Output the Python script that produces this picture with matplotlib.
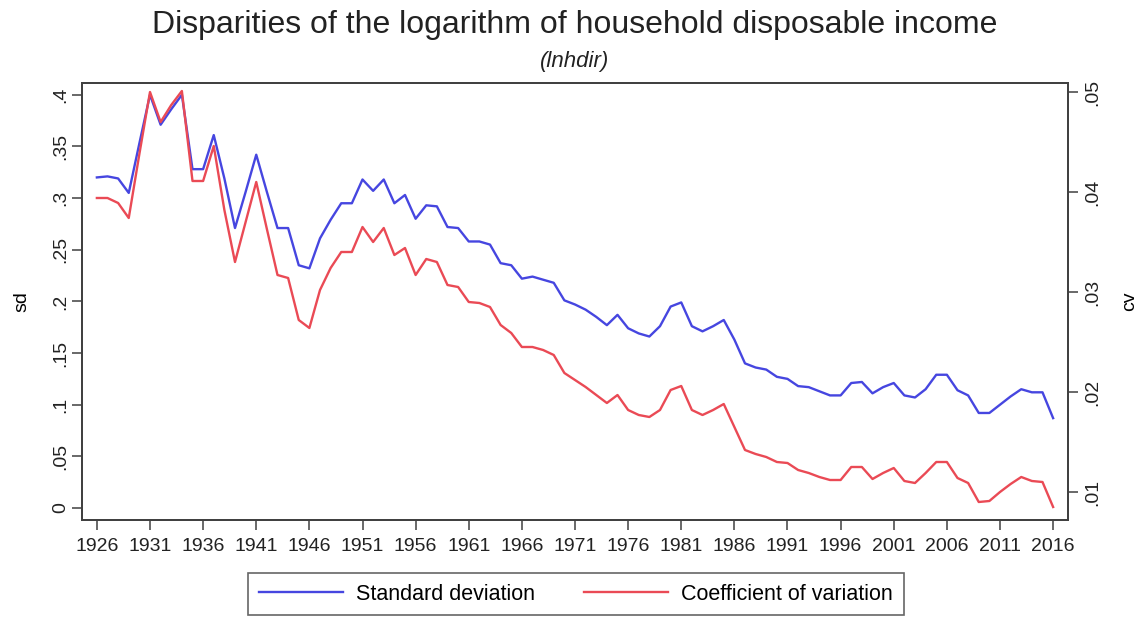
import matplotlib
matplotlib.use("Agg")
import matplotlib.pyplot as plt
import numpy as np

plt.rcParams['font.family'] = ['Liberation Sans', 'DejaVu Sans']

# data (annual, 1926-2016)
years = list(range(1926, 2017))

sd = [
    0.320, 0.321, 0.319, 0.305, 0.353, 0.400, 0.371, 0.386, 0.400, 0.328,  # 1926-1935
    0.328, 0.361, 0.319, 0.271, 0.306, 0.342, 0.306, 0.271, 0.271, 0.235,  # 1936-1945
    0.232, 0.261, 0.279, 0.295, 0.295, 0.318, 0.307, 0.318, 0.295, 0.303,  # 1946-1955
    0.280, 0.293, 0.292, 0.272, 0.271, 0.258, 0.258, 0.255, 0.237, 0.235,  # 1956-1965
    0.222, 0.224, 0.221, 0.218, 0.201, 0.197, 0.192, 0.185, 0.177, 0.187,  # 1966-1975
    0.174, 0.169, 0.166, 0.176, 0.195, 0.199, 0.176, 0.171, 0.176, 0.182,  # 1976-1985
    0.163, 0.140, 0.136, 0.134, 0.127, 0.125, 0.118, 0.117, 0.113, 0.109,  # 1986-1995
    0.109, 0.121, 0.122, 0.111, 0.117, 0.121, 0.109, 0.107, 0.115, 0.129,  # 1996-2005
    0.129, 0.114, 0.109, 0.092, 0.092, 0.100, 0.108, 0.115, 0.112, 0.112,  # 2006-2015
    0.087,                                                                 # 2016
]

cv = [
    0.0394, 0.0394, 0.0389, 0.0374, 0.0438, 0.0500, 0.0470, 0.0487, 0.0501, 0.0411,
    0.0411, 0.0446, 0.0382, 0.0330, 0.0370, 0.0410, 0.0363, 0.0317, 0.0314, 0.0272,
    0.0264, 0.0302, 0.0324, 0.0340, 0.0340, 0.0365, 0.0350, 0.0364, 0.0337, 0.0344,
    0.0317, 0.0333, 0.0330, 0.0307, 0.0305, 0.0290, 0.0289, 0.0285, 0.0267, 0.0259,
    0.0245, 0.0245, 0.0242, 0.0237, 0.0219, 0.0212, 0.0205, 0.0197, 0.0189, 0.0197,
    0.0182, 0.0177, 0.0175, 0.0182, 0.0202, 0.0206, 0.0182, 0.0177, 0.0182, 0.0188,
    0.0165, 0.0142, 0.0138, 0.0135, 0.0130, 0.0129, 0.0122, 0.0119, 0.0115, 0.0112,
    0.0112, 0.0125, 0.0125, 0.0113, 0.0119, 0.0124, 0.0111, 0.0109, 0.0119, 0.0130,
    0.0130, 0.0114, 0.0109, 0.0090, 0.0091, 0.0100, 0.0108, 0.0115, 0.0111, 0.0110,
    0.0085,
]

x_ticks = list(range(1926, 2017, 5))
sd_ticks = [0, 0.05, 0.1, 0.15, 0.2, 0.25, 0.3, 0.35, 0.4]
sd_labels = ["0", ".05", ".1", ".15", ".2", ".25", ".3", ".35", ".4"]
cv_ticks = [0.01, 0.02, 0.03, 0.04, 0.05]
cv_labels = [".01", ".02", ".03", ".04", ".05"]

blue = "#4646e0"
red = "#ea4a55"
frame = "#404040"

fig = plt.figure(figsize=(11.44, 6.18), dpi=100)
ax = fig.add_axes([82 / 1144, 1 - 520 / 618, 986 / 1144, 437 / 618])
ax2 = ax.twinx()

l1, = ax.plot(years, sd, color=blue, lw=1.7, label="Standard deviation")
l2, = ax2.plot(years, cv, color=red, lw=1.7, label="Coefficient of variation")

ax.set_xlim(1924.6, 2017.4)
ax.set_ylim(-0.0116, 0.4114)
ax2.set_ylim(0.0072, 0.0509)

ax.set_xticks(x_ticks)
ax.set_xticklabels([str(y) for y in x_ticks])
ax.set_yticks(sd_ticks)
ax.set_yticklabels(sd_labels)
ax2.set_yticks(cv_ticks)
ax2.set_yticklabels(cv_labels)

for a in (ax, ax2):
    for s in a.spines.values():
        s.set_color(frame)
        s.set_linewidth(1.3)
    a.tick_params(length=7, width=1.1, color=frame, labelsize=14, labelcolor="#222222")

plt.setp(ax.get_yticklabels(), rotation=90, va="center")
plt.setp(ax2.get_yticklabels(), rotation=90, va="center")
ax.tick_params(axis="x", pad=6)
ax.tick_params(axis="y", pad=2)
ax2.tick_params(axis="y", pad=5)

ax.set_ylabel("sd", fontsize=14, labelpad=16)
ax2.set_ylabel("cv", fontsize=14, labelpad=14, rotation=90)

fig.text(575 / 1144, 1 - 25 / 618, "Disparities of the logarithm of household disposable income",
         ha="center", va="center", fontsize=23, color="#222222")
fig.text(575 / 1144, 1 - 62 / 618, "(lnhdir)", ha="center", va="center",
         fontsize=16, style="italic", color="#222222")

leg = fig.legend(handles=[l1, l2], loc="center", bbox_to_anchor=(576 / 1144, 1 - 594 / 618),
                 ncol=2, fontsize=15.5, frameon=True, fancybox=False, handlelength=3.9,
                 handletextpad=0.6, columnspacing=2.3, borderpad=0.5)
leg.get_frame().set_edgecolor(frame)
leg.get_frame().set_linewidth(1.2)

fig.savefig("out.png", dpi=100)
